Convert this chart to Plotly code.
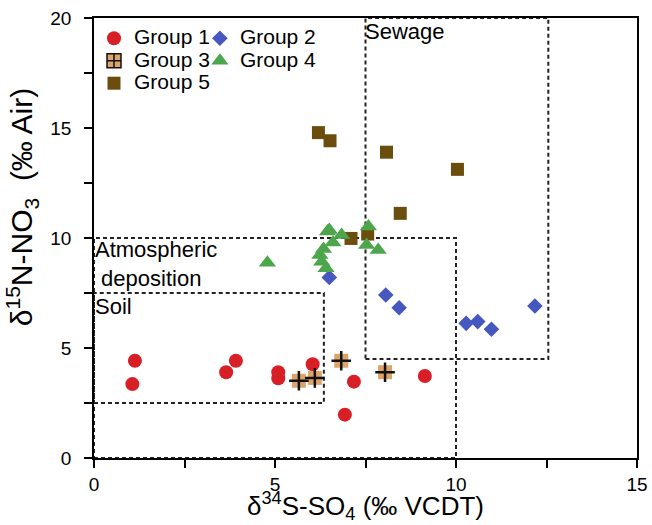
import plotly.graph_objects as go

# Group 1: delta34S-SO4 and delta15N-NO3 (permil)
g1_s = [1.13, 1.06, 3.65, 3.92, 5.09, 5.09, 6.04, 7.18, 6.93, 9.14]
g1_n = [4.42, 3.36, 3.90, 4.42, 3.90, 3.62, 4.26, 3.47, 1.97, 3.73]

# Group 2
g2_s = [6.50, 8.06, 8.43, 10.28, 10.60, 10.98, 12.18]
g2_n = [8.21, 7.41, 6.83, 6.12, 6.20, 5.85, 6.91]

# Group 3
g3_s = [5.66, 6.10, 6.83, 8.04]
g3_n = [3.51, 3.64, 4.42, 3.90]

# Group 4
g4_s = [4.79, 6.24, 6.29, 6.41, 6.34, 6.45, 6.50, 6.60, 6.84, 7.58, 7.53, 7.85]
g4_n = [8.88, 9.23, 8.92, 8.62, 9.50, 10.29, 10.36, 9.80, 10.14, 10.52, 9.68, 9.45]

# Group 5
g5_s = [6.20, 6.52, 8.08, 10.04, 8.46, 7.10, 7.56]
g5_n = [14.79, 14.42, 13.90, 13.12, 11.12, 9.98, 10.18]

# Source fields (x0, x1, y0, y1)
soil_box = [0, 6.35, 2.5, 7.5]
atmo_box = [0, 10, 0, 10]
sewage_box = [7.5, 12.55, 4.5, 20]

x_title = "δ<sup>34</sup>S-SO<sub>4</sub> (‰ VCDT)"
y_title = "δ<sup>15</sup>N-NO<sub>3</sub>  (‰ Air)"

FONT = "Liberation Sans, Arial, sans-serif"


def leg_name(s):
    # larger glyphs than the legend base font keep the rows compact
    return '<span style="font-size:21px">{}</span>'.format(s)


fig = go.Figure()

fig.add_trace(go.Scatter(x=g1_s, y=g1_n, mode="markers", name=leg_name("Group 1"),
                         marker=dict(symbol="circle", size=14, color="#d91f26"),
                         legend="legend"))
fig.add_trace(go.Scatter(x=g3_s, y=g3_n, mode="markers", name=leg_name("Group 3"),
                         marker=dict(symbol="square", size=14, color="#dca46a"),
                         legend="legend", legendgroup="g3", showlegend=False))
fig.add_trace(go.Scatter(x=g3_s, y=g3_n, mode="markers", name=leg_name("Group 3"),
                         marker=dict(symbol="cross-thin", size=14,
                                     line=dict(color="#111111", width=2.5)),
                         legend="legend", legendgroup="g3", showlegend=False))
# legend entry for Group 3
fig.add_trace(go.Scatter(x=[None], y=[None], mode="markers", name=leg_name("Group 3"),
                         marker=dict(symbol="square-cross", size=14, color="#dca46a",
                                     line=dict(color="#111111", width=1.5)),
                         legend="legend", legendgroup="g3"))
fig.add_trace(go.Scatter(x=g5_s, y=g5_n, mode="markers", name=leg_name("Group 5"),
                         marker=dict(symbol="square", size=13, color="#6b4e0e"),
                         legend="legend"))
fig.add_trace(go.Scatter(x=g2_s, y=g2_n, mode="markers", name=leg_name("Group 2"),
                         marker=dict(symbol="diamond", size=12, color="#4658c0"),
                         legend="legend2"))
fig.add_trace(go.Scatter(x=g4_s, y=g4_n, mode="markers", name=leg_name("Group 4"),
                         marker=dict(symbol="triangle-up", size=15, color="#4ea64c"),
                         legend="legend2"))

dash_line = dict(color="#222222", width=2, dash="4px,3px")
for b in (soil_box, atmo_box, sewage_box):
    fig.add_shape(type="rect", xref="x", yref="y", x0=b[0], x1=b[1], y0=b[2], y1=b[3],
                  line=dash_line, fillcolor="rgba(0,0,0,0)", layer="below")

label_font = dict(family=FONT, size=22, color="black")
fig.add_annotation(x=sewage_box[0], y=sewage_box[3], text="Sewage", showarrow=False,
                   xanchor="left", yanchor="top", xshift=-3, yshift=1, font=label_font)
fig.add_annotation(x=0, y=atmo_box[3], text="Atmospheric<br> deposition", showarrow=False,
                   xanchor="left", yanchor="top", align="left", xshift=-1, yshift=3,
                   font=label_font)
fig.add_annotation(x=0, y=soil_box[3], text="Soil", showarrow=False,
                   xanchor="left", yanchor="top", xshift=-1, yshift=1, font=label_font)

# axis titles
fig.add_annotation(xref="paper", yref="paper", x=0.5, y=0, yshift=-48,
                   xanchor="center", yanchor="middle", text=x_title, showarrow=False,
                   font=dict(family=FONT, size=26, color="black"))
fig.add_annotation(xref="paper", yref="paper", x=0, y=0.57, xshift=-72,
                   xanchor="center", yanchor="middle", text=y_title, showarrow=False,
                   textangle=-90, font=dict(family=FONT, size=30, color="black"))

axis_common = dict(showline=True, mirror=True, linecolor="black", linewidth=1.5,
                   ticks="outside", ticklen=8, tickwidth=1.5, tickcolor="black",
                   showgrid=False, zeroline=False, automargin=False,
                   tickfont=dict(family=FONT, size=19, color="black"),
                   minor=dict(dtick=2.5, ticks="outside", ticklen=8, tickwidth=1.5,
                              tickcolor="black", showgrid=False))

fig.update_xaxes(range=[0, 15], dtick=5, tick0=0, ticklabelstandoff=0, **axis_common)
fig.update_yaxes(range=[0, 20], dtick=5, tick0=0, ticklabelstandoff=9, **axis_common)

legend_font = dict(family=FONT, size=15, color="black")
fig.update_layout(
    width=652, height=525,
    margin=dict(l=94, r=15, t=18, b=67),
    plot_bgcolor="white", paper_bgcolor="white",
    legend=dict(x=0.0, y=0.991, xanchor="left", yanchor="top", font=legend_font,
                bgcolor="rgba(0,0,0,0)", itemwidth=30, traceorder="normal"),
    legend2=dict(x=0.195, y=0.991, xanchor="left", yanchor="top", font=legend_font,
                 bgcolor="rgba(0,0,0,0)", itemwidth=30, traceorder="normal"),
)

fig.write_html("out.html")
